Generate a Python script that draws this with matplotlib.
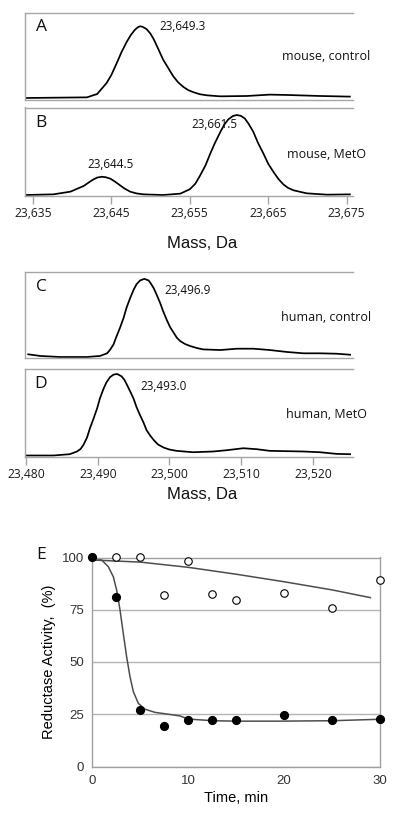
import matplotlib
matplotlib.use("Agg")
import matplotlib.pyplot as plt

# ---------------- data ----------------
# Panel A: mouse, control
mass_a = [23634.0, 23641.9, 23643.2, 23644.4, 23645.0, 23645.7, 23646.3, 23647.0, 23647.5, 23648.0,
          23648.4, 23648.7, 23649.0, 23649.5, 23650.0, 23650.4, 23651.0, 23651.6, 23652.3, 23652.9,
          23653.5, 23654.2, 23654.8, 23655.5, 23656.3, 23657.2, 23658.9, 23662.3, 23665.2, 23667.4,
          23671.6, 23675.4]
int_a = [0.0, 0.9, 5.6, 20.9, 32.0, 48.8, 64.0, 79.0, 88.0, 95.0,
         98.8, 100.0, 99.2, 96.0, 89.5, 82.0, 68.0, 53.5, 41.0, 30.2,
         22.0, 15.3, 11.0, 7.9, 5.2, 3.7, 2.3, 2.8, 4.7, 4.2,
         2.8, 1.9]
# Panel B: mouse, MetO
mass_b = [23634.0, 23637.6, 23639.8, 23641.5, 23642.1, 23642.7, 23643.2, 23643.8, 23644.3, 23644.9,
          23645.5, 23646.1, 23646.7, 23647.4, 23648.2, 23649.1, 23651.6, 23653.8, 23655.0, 23655.7,
          23656.3, 23657.0, 23657.6, 23658.2, 23658.9, 23659.4, 23659.9, 23660.5, 23661.0, 23661.5,
          23662.0, 23662.5, 23663.1, 23663.7, 23664.4, 23665.0, 23665.7, 23666.3, 23666.9, 23667.5,
          23668.2, 23669.9, 23672.5, 23675.4]
int_b = [0.0, 0.8, 4.2, 11.4, 15.5, 19.4, 21.8, 22.8, 22.2, 20.3,
         16.5, 12.2, 8.0, 4.2, 2.0, 0.8, 0.0, 1.7, 7.2, 14.0,
         24.1, 37.0, 51.5, 65.0, 78.9, 88.0, 94.5, 98.8, 100.0, 99.0,
         95.8, 89.0, 78.9, 65.0, 51.5, 39.0, 28.3, 20.0, 13.5, 9.0,
         5.9, 2.1, 0.4, 0.8]
# Panel C: human, control
mass_c = [23480.3, 23482.0, 23484.7, 23488.5, 23490.3, 23491.3, 23491.7, 23492.2, 23492.6, 23493.1,
          23493.6, 23494.0, 23494.5, 23495.0, 23495.4, 23495.9, 23496.5, 23497.1, 23497.4, 23497.8,
          23498.2, 23498.7, 23499.1, 23499.6, 23500.1, 23500.6, 23501.0, 23501.5, 23502.2, 23502.9,
          23503.8, 23504.7, 23507.1, 23509.4, 23511.7, 23514.0, 23516.4, 23518.7, 23521.0, 23523.3,
          23525.2]
int_c = [3.4, 1.3, 0.0, 0.0, 1.3, 4.7, 9.0, 16.1, 26.0, 37.3,
         50.0, 62.7, 75.0, 86.0, 93.0, 97.9, 100.0, 97.9, 94.0, 88.1,
         80.0, 69.1, 59.0, 47.9, 38.0, 30.9, 25.0, 20.3, 16.5, 14.0,
         11.5, 9.7, 8.9, 10.6, 10.6, 8.9, 6.4, 4.7, 4.7, 4.2,
         2.9]
# Panel D: human, MetO
mass_d = [23479.9, 23483.8, 23486.1, 23487.1, 23487.6, 23488.0, 23488.5, 23488.9, 23489.4, 23489.9,
          23490.3, 23490.8, 23491.2, 23491.7, 23492.2, 23492.7, 23493.3, 23493.7, 23494.0, 23494.5,
          23495.0, 23495.4, 23495.9, 23496.4, 23496.8, 23497.3, 23497.8, 23498.4, 23499.2, 23500.0,
          23501.0, 23503.3, 23506.1, 23508.0, 23510.3, 23512.2, 23514.0, 23516.4, 23518.7, 23521.0,
          23523.3, 23525.2]
int_d = [0.0, 0.0, 1.6, 4.9, 8.0, 13.0, 22.0, 33.2, 45.0, 57.5,
         70.0, 81.8, 89.5, 96.0, 99.2, 100.0, 97.2, 93.0, 87.9, 79.0,
         69.6, 59.5, 49.4, 40.0, 31.2, 24.5, 19.0, 13.5, 9.7, 7.3,
         5.7, 4.0, 4.9, 6.5, 8.9, 7.7, 5.7, 5.3, 4.9, 4.0,
         2.0, 1.6]

mouse_ticks = [23635, 23645, 23655, 23665, 23675]
mouse_ticklabels = ["23,635", "23,645", "23,655", "23,665", "23,675"]
human_ticks = [23480, 23490, 23500, 23510, 23520]
human_ticklabels = ["23,480", "23,490", "23,500", "23,510", "23,520"]

# Panel E: reductase activity
time_filled = [0, 2.5, 5, 7.5, 10, 12.5, 15, 20, 25, 30]
act_filled = [100, 81.3, 27.2, 19.3, 22.4, 22.1, 22.1, 24.8, 22.1, 22.7]
time_open = [2.5, 5, 7.5, 10, 12.5, 15, 20, 25, 30]
act_open = [100, 100, 81.9, 98.2, 82.7, 79.5, 83.2, 75.9, 89.4]
fit_filled_t = [0, 0.98, 1.67, 2.19, 2.54, 2.89, 3.23, 3.58, 3.93, 4.28, 4.8, 5.5, 6.54, 7.93,
                9.14, 10.0, 12.6, 15.0, 19.6, 25.0, 30.0]
fit_filled_v = [100, 98.8, 95.6, 90.8, 84.4, 74.9, 63.7, 52.5, 43.0, 35.8, 30.2, 27.4, 25.9, 25.0,
                24.2, 22.7, 21.9, 21.7, 21.7, 21.9, 22.6]
fit_open_t = [0, 5, 10, 15, 20, 25, 29]
fit_open_v = [98.8, 97.8, 95.3, 92.0, 88.4, 84.5, 80.8]
e_yticks = [0, 25, 50, 75, 100]
e_xticks = [0, 10, 20, 30]

# ---------------- figure ----------------
W, H = 400, 823
fig = plt.figure(figsize=(W / 100, H / 100), dpi=100)
SPINE = "#a6a6a6"
SF = ["Open Sans", "DejaVu Sans"]
AF = ["Liberation Sans", "DejaVu Sans"]


def add_ax(left, top, right, bottom):
    return fig.add_axes([left / W, 1 - bottom / H, (right - left) / W, (bottom - top) / H])


def spectrum(ax, m, y, xlim, ylim):
    ax.plot(m, y, color="black", lw=1.25, solid_joinstyle="round")
    ax.set_xlim(*xlim)
    ax.set_ylim(*ylim)
    ax.set_yticks([])
    for s in ["top", "left", "bottom"]:
        ax.spines[s].set_color(SPINE)
        ax.spines[s].set_linewidth(1.0)
    ax.spines["right"].set_visible(False)
    ax.set_facecolor("none")


mouse_xlim = (23634.0, 23675.8)
human_xlim = (23479.85, 23525.6)

axA = add_ax(25, 12.5, 353, 99.5)
spectrum(axA, mass_a, int_a, mouse_xlim, (-2.1, 119.2))
axA.set_xticks([])
axB = add_ax(25, 107.5, 353, 196)
spectrum(axB, mass_b, int_b, mouse_xlim, (-1.25, 109.4))
axB.set_xticks(mouse_ticks)
axB.set_xticklabels(mouse_ticklabels, fontsize=8.7, family=SF, color="#1a1a1a")
axB.tick_params(axis="x", length=6, width=1.0, color=SPINE, pad=2)

axC = add_ax(25, 271.5, 353, 358)
spectrum(axC, mass_c, int_c, human_xlim, (-1.3, 109.4))
axC.set_xticks([])
axD = add_ax(25, 368.5, 353, 456.5)
spectrum(axD, mass_d, int_d, human_xlim, (-1.23, 106.7))
axD.set_xticks(human_ticks)
axD.set_xticklabels(human_ticklabels, fontsize=8.7, family=SF, color="#1a1a1a")
axD.tick_params(axis="x", length=6, width=1.0, color=SPINE, pad=2)


def ftext(x, y, s, size, family=SF, ha="center", **kw):
    fig.text(x / W, 1 - y / H, s, fontsize=size, family=family, ha=ha, va="center",
             color="#111111", **kw)


# letters and labels
ftext(41, 27, "A", 12.5)
ftext(183, 27, "23,649.3", 8.4)
ftext(326, 57, "mouse, control", 9)
ftext(41, 123, "B", 12.5)
ftext(237, 125, "23,661.5", 8.4, ha="right")
ftext(110, 165, "23,644.5", 8.4)
ftext(327, 155, "mouse, MetO", 9)
ftext(202, 244, "Mass, Da", 12, family=AF)

ftext(41, 287, "C", 12.5)
ftext(188, 290, "23,496.9", 8.4)
ftext(326, 317, "human, control", 9)
ftext(41, 384, "D", 12.5)
ftext(164, 386, "23,493.0", 8.4)
ftext(327, 414, "human, MetO", 9)
ftext(202, 494, "Mass, Da", 12, family=AF)

# ---------------- panel E ----------------
axE = add_ax(92.3, 557.5, 380, 766.5)
axE.set_xlim(0, 30)
axE.set_ylim(0, 100)
axE.set_yticks(e_yticks)
axE.set_xticks(e_xticks)
axE.set_yticklabels([str(v) for v in e_yticks], fontsize=9.5, family=AF, color="#333333")
axE.set_xticklabels([str(v) for v in e_xticks], fontsize=9.5, family=AF, color="#333333")
axE.tick_params(length=0, pad=6)
axE.grid(axis="y", color="#b3b3b3", lw=1.0)
axE.set_axisbelow(True)
for s in ["left", "bottom", "right", "top"]:
    axE.spines[s].set_color("#a0a0a0")
    axE.spines[s].set_linewidth(1.0)

axE.plot(fit_open_t, fit_open_v, color="#4d4d4d", lw=1.1)
axE.plot(fit_filled_t, fit_filled_v, color="#4d4d4d", lw=1.1)
axE.plot(time_open, act_open, "o", ms=5.4, mfc="white", mec="black", mew=0.8, clip_on=False, zorder=5)
axE.plot(time_filled, act_filled, "o", ms=5.6, mfc="black", mec="black", clip_on=False, zorder=5)
axE.set_xlabel("Time, min", fontsize=10.5, family=AF, labelpad=3)
axE.set_ylabel("Reductase Activity,  (%)", fontsize=10.5, family=AF, labelpad=4)

ftext(41, 555, "E", 12.5)

fig.savefig("out.png", dpi=100)
